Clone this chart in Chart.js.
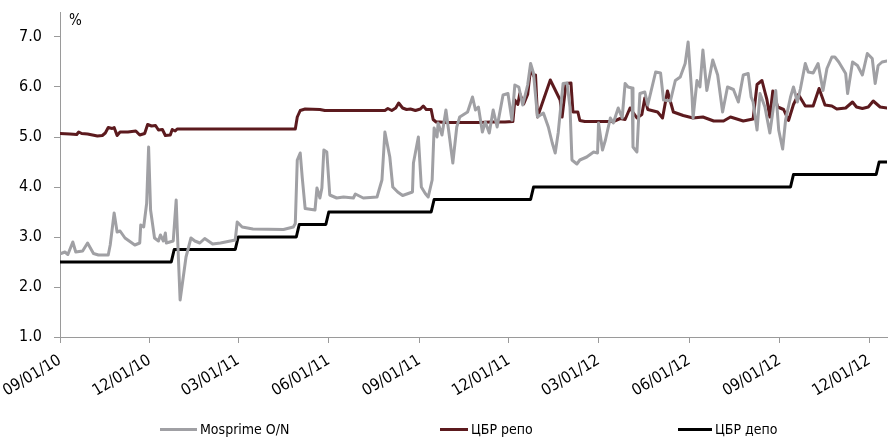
<!DOCTYPE html>
<html>
<head>
<meta charset="utf-8">
<script src="https://cdn.jsdelivr.net/npm/chart.js@4/dist/chart.umd.min.js"></script>
<style>
  html, body { margin: 0; padding: 0; background: #fff; }
  #wrap { position: relative; width: 896px; height: 438px; }
  #legend { position: absolute; left: 0; top: 0; width: 896px; height: 438px; pointer-events: none;
            font-family: "DejaVu Sans Condensed", "DejaVu Sans", sans-serif; font-size: 14px; color: #000; }
  .li { position: absolute; top: 421px; display: flex; align-items: center; white-space: nowrap; }
  .sw { display: inline-block; height: 3px; margin-right: 3px; }
</style>
</head>
<body>
<div id="wrap">
  <canvas id="c" width="896" height="438"></canvas>
  <div id="legend"></div>
</div>
<script>
// ---- data (x = days since 09/01/2010) ----
const seriesNames = ['Mosprime O/N', 'ЦБР репо', 'ЦБР депо'];

const mosDays = [1,5,8,13,16,23,28,34,39,49,51,55,58,61,66,76,81,82,85,88,90,92,96,100,102,105,107,108,115,118,119,122,128,133,137,142,147,155,163,173,178,180,185,196,227,237,239,241,244,246,249,259,261,264,266,268,271,274,281,288,298,300,308,322,327,330,335,338,343,348,358,359,364,367,371,374,378,380,383,384,388,392,394,396,399,403,406,414,419,422,425,429,432,436,440,444,450,455,459,462,466,470,475,478,481,485,491,496,500,503,506,511,515,518,520,525,528,535,542,546,547,551,554,559,562,567,571,574,577,581,582,586,589,594,597,605,610,613,620,625,630,635,638,642,643,647,650,653,657,663,668,673,678,684,689,694,699,702,704,708,711,716,721,727,730,734,737,742,745,749,752,757,760,765,770,775,779,784,787,791,798,800,805,810,815,820,825,828,831,835,840];
const mosVals = [2.67,2.70,2.65,2.90,2.70,2.72,2.88,2.67,2.64,2.64,2.84,3.48,3.10,3.12,2.98,2.84,2.88,3.24,3.20,3.67,4.80,3.54,2.98,2.92,3.04,2.92,3.08,2.88,2.92,3.74,3.20,1.74,2.60,2.98,2.92,2.88,2.97,2.86,2.88,2.92,2.94,3.30,3.20,3.16,3.15,3.20,3.27,4.54,4.68,4.20,3.57,3.54,3.98,3.78,3.98,4.74,4.70,3.84,3.78,3.80,3.78,3.86,3.78,3.80,4.14,5.10,4.60,4.00,3.90,3.83,3.90,4.48,5.00,4.00,3.87,3.80,4.14,5.18,5.00,5.28,5.04,5.54,5.24,4.94,4.48,5.20,5.40,5.50,5.80,5.54,5.60,5.10,5.30,5.08,5.54,5.20,5.84,5.87,5.34,6.04,6.00,5.64,6.04,6.47,6.27,5.40,5.48,5.20,4.88,4.68,5.08,6.07,6.08,5.60,4.54,4.46,4.54,4.60,4.70,4.68,5.28,4.74,4.94,5.38,5.28,5.58,5.38,6.07,6.00,5.98,4.80,4.70,5.87,5.90,5.64,6.30,6.28,5.74,5.72,6.13,6.20,6.47,6.90,5.80,5.38,6.13,6.00,6.74,5.93,6.54,6.24,5.50,6.00,5.95,5.70,6.24,6.27,5.80,5.70,5.14,5.87,5.60,5.08,5.93,5.14,4.76,5.34,5.80,6.00,5.70,5.96,6.47,6.30,6.28,6.47,5.93,6.37,6.60,6.60,6.50,6.27,5.87,6.50,6.43,6.24,6.67,6.57,6.07,6.43,6.50,6.52];

const repoDays = [0,10,17,19,22,28,33,38,43,46,49,53,55,58,61,69,77,81,86,89,93,97,100,104,107,112,114,117,119,239,241,244,249,264,269,300,320,330,333,337,341,344,348,352,356,361,366,369,372,377,379,382,386,391,427,437,452,460,462,465,467,471,475,478,481,483,485,498,508,510,514,519,521,526,528,533,549,562,569,574,579,586,591,594,597,607,612,617,623,633,643,653,664,674,681,694,704,708,713,716,718,721,724,729,735,740,745,750,757,765,771,777,784,789,798,805,809,815,821,826,833,840];
const repoVals = [5.07,5.06,5.05,5.10,5.07,5.06,5.04,5.02,5.03,5.08,5.19,5.17,5.19,5.03,5.10,5.10,5.12,5.04,5.07,5.25,5.22,5.23,5.14,5.15,5.03,5.04,5.15,5.12,5.16,5.16,5.40,5.53,5.56,5.55,5.53,5.53,5.53,5.53,5.57,5.53,5.58,5.68,5.58,5.55,5.56,5.53,5.56,5.62,5.55,5.55,5.35,5.30,5.30,5.29,5.29,5.30,5.30,5.31,5.74,5.65,5.87,5.66,5.85,6.37,6.22,6.24,5.40,6.14,5.74,5.40,6.07,6.08,5.50,5.50,5.33,5.31,5.31,5.31,5.37,5.35,5.58,5.38,5.45,5.78,5.55,5.50,5.38,5.92,5.50,5.43,5.38,5.40,5.32,5.32,5.40,5.32,5.36,6.05,6.13,5.90,5.75,5.40,5.92,5.60,5.55,5.33,5.65,5.85,5.62,5.62,5.97,5.64,5.62,5.56,5.58,5.70,5.60,5.57,5.60,5.72,5.60,5.58];

const depoDays = [0,113,116,178,181,240,243,270,273,377,380,478,481,742,745,829,832,840];
const depoVals = [2.50,2.50,2.75,2.75,3.00,3.00,3.25,3.25,3.50,3.50,3.75,3.75,4.00,4.00,4.25,4.25,4.50,4.50];

const tickDays = [0,91,181,273,365,456,547,639,731,822];
const tickLabels = ['09/01/10','12/01/10','03/01/11','06/01/11','09/01/11','12/01/11','03/01/12','06/01/12','09/01/12','12/01/12'];
const yTicks = [1,2,3,4,5,6,7];

// ---- styling ----
const colors = ['#a0a0a4', '#5c1a1e', '#000000'];
const FONT = '"DejaVu Sans Condensed", "DejaVu Sans", sans-serif';
const AXIS = '#9a9a9a';

const toPts = (xs, ys) => xs.map((x, i) => ({ x: x, y: ys[i] }));

const unitPlugin = {
  id: 'unit',
  afterDraw(chart) {
    const ctx = chart.ctx;
    ctx.save();
    ctx.font = '15px ' + FONT;
    ctx.fillStyle = '#000';
    ctx.textBaseline = 'top';
    ctx.fillText('%', chart.chartArea.left + 9, chart.chartArea.top + 2);
    ctx.restore();
  }
};

new Chart(document.getElementById('c'), {
  type: 'line',
  data: {
    datasets: [
      { label: seriesNames[0], data: toPts(mosDays, mosVals), borderColor: colors[0], borderWidth: 3 },
      { label: seriesNames[1], data: toPts(repoDays, repoVals), borderColor: colors[1], borderWidth: 3 },
      { label: seriesNames[2], data: toPts(depoDays, depoVals), borderColor: colors[2], borderWidth: 3 }
    ]
  },
  options: {
    responsive: false,
    animation: false,
    parsing: false,
    elements: { point: { radius: 0 }, line: { tension: 0, borderJoinStyle: 'round', borderCapStyle: 'round' } },
    layout: { padding: { top: 12, right: 9, left: 0, bottom: 0 } },
    plugins: { legend: { display: false }, tooltip: { enabled: false } },
    scales: {
      x: {
        type: 'linear', min: 0, max: 840,
        afterBuildTicks(s) { s.ticks = tickDays.map(v => ({ value: v })); },
        afterFit(s) { s.height = 101; s.paddingLeft = 0; s.paddingRight = 0; },
        grid: { drawOnChartArea: false, drawTicks: true, tickLength: 6, color: AXIS },
        border: { display: true, color: AXIS, width: 1 },
        ticks: {
          autoSkip: false, minRotation: 31, maxRotation: 31, padding: 8,
          color: '#000', font: { family: FONT, size: 16 },
          callback(v) { const i = tickDays.indexOf(v); return i >= 0 ? tickLabels[i] : ''; }
        }
      },
      y: {
        type: 'linear', min: 1, max: 7.5,
        afterBuildTicks(s) { s.ticks = yTicks.map(v => ({ value: v })); },
        afterFit(s) { s.width = 60; s.paddingTop = 0; s.paddingBottom = 0; },
        grid: { drawOnChartArea: false, drawTicks: true, tickLength: 6, color: AXIS },
        border: { display: true, color: AXIS, width: 1 },
        ticks: {
          padding: 12, color: '#000', font: { family: FONT, size: 16 },
          callback(v) { return v.toFixed(1); }
        }
      }
    }
  },
  plugins: [unitPlugin]
});

// ---- HTML legend ----
const legendPos = [[160, 37], [440, 28], [678, 34]];
const lg = document.getElementById('legend');
seriesNames.forEach((n, i) => {
  const d = document.createElement('div');
  d.className = 'li';
  d.style.left = legendPos[i][0] + 'px';
  d.innerHTML = '<span class="sw" style="width:' + legendPos[i][1] + 'px;background:' + colors[i] + '"></span><span>' + n + '</span>';
  lg.appendChild(d);
});
</script>
</body>
</html>
